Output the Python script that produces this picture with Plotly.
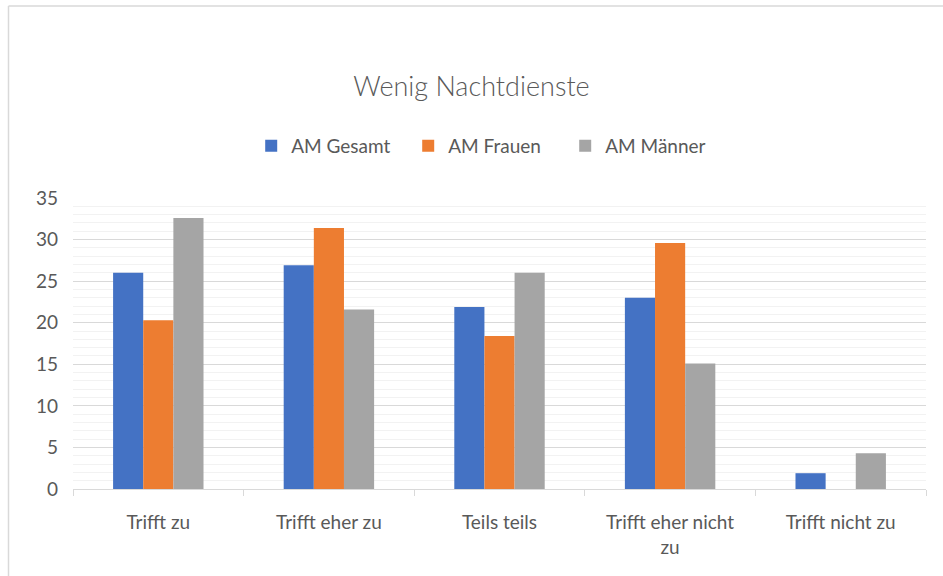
import plotly.graph_objects as go

categories = ["Trifft zu", "Trifft eher zu", "Teils teils", "Trifft eher nicht<br>zu", "Trifft nicht zu"]
am_gesamt = [26.0, 26.9, 21.9, 23.0, 1.9]
am_frauen = [20.3, 31.4, 18.4, 29.6, 0.0]
am_maenner = [32.6, 21.6, 26.0, 15.1, 4.3]

series = [
    ("AM Gesamt", am_gesamt, "#4472C4"),
    ("AM Frauen", am_frauen, "#ED7D31"),
    ("AM Männer", am_maenner, "#A5A5A5"),
]

FONT = "Lato, 'Open Sans', sans-serif"
TXT = "#595959"

fig = go.Figure()
for name, vals, col in series:
    fig.add_trace(go.Bar(name=name, x=categories, y=vals, marker=dict(color=col, line=dict(width=0))))

fig.update_layout(
    width=943, height=576,
    margin=dict(l=73, r=17, t=198, b=87),
    paper_bgcolor="white", plot_bgcolor="white",
    barmode="group", bargap=0.47, bargroupgap=0,
    font=dict(family=FONT, color=TXT, size=19),
    title=dict(text="Wenig Nachtdienste", x=0.5, xanchor="center", y=1 - 87/576, yanchor="middle",
               font=dict(family=FONT, size=27, color=TXT, weight=300)),
    legend=dict(orientation="h", x=0.485, xanchor="center", y=(489-146)/291, yanchor="middle",
                font=dict(family=FONT, size=19, color=TXT), traceorder="normal",
                entrywidth=112, entrywidthmode="pixels",
                bgcolor="rgba(0,0,0,0)"),
    showlegend=True,
)

fig.update_yaxes(
    range=[0, 35], dtick=5, tick0=0, showgrid=True, gridcolor="#D9D9D9", gridwidth=1,
    minor=dict(dtick=1, showgrid=True, gridcolor="#F2F2F2", gridwidth=1),
    zeroline=False, showline=False, ticks="", ticklabelstandoff=14,
    tickfont=dict(family=FONT, size=19, color=TXT),
)
fig.update_xaxes(
    showline=True, linecolor="#D9D9D9", linewidth=1, ticks="outside", tickson="boundaries",
    ticklen=6, tickcolor="#D9D9D9", showgrid=False, ticklabelstandoff=16,
    tickfont=dict(family=FONT, size=19, color=TXT),
)

# chart area border (top and left visible)
fig.add_shape(type="line", xref="paper", yref="paper", x0=(8.5-73)/853, x1=1.03, y0=(489-6)/291, y1=(489-6)/291,
              line=dict(color="#D9D9D9", width=1.5))
fig.add_shape(type="line", xref="paper", yref="paper", x0=(8.5-73)/853, x1=(8.5-73)/853, y0=(489-6)/291, y1=-0.35,
              line=dict(color="#D9D9D9", width=1.5))

fig.write_html("out.html", config={"displayModeBar": False},
               post_script="document.body.style.margin='0';document.body.style.overflow='hidden';")
